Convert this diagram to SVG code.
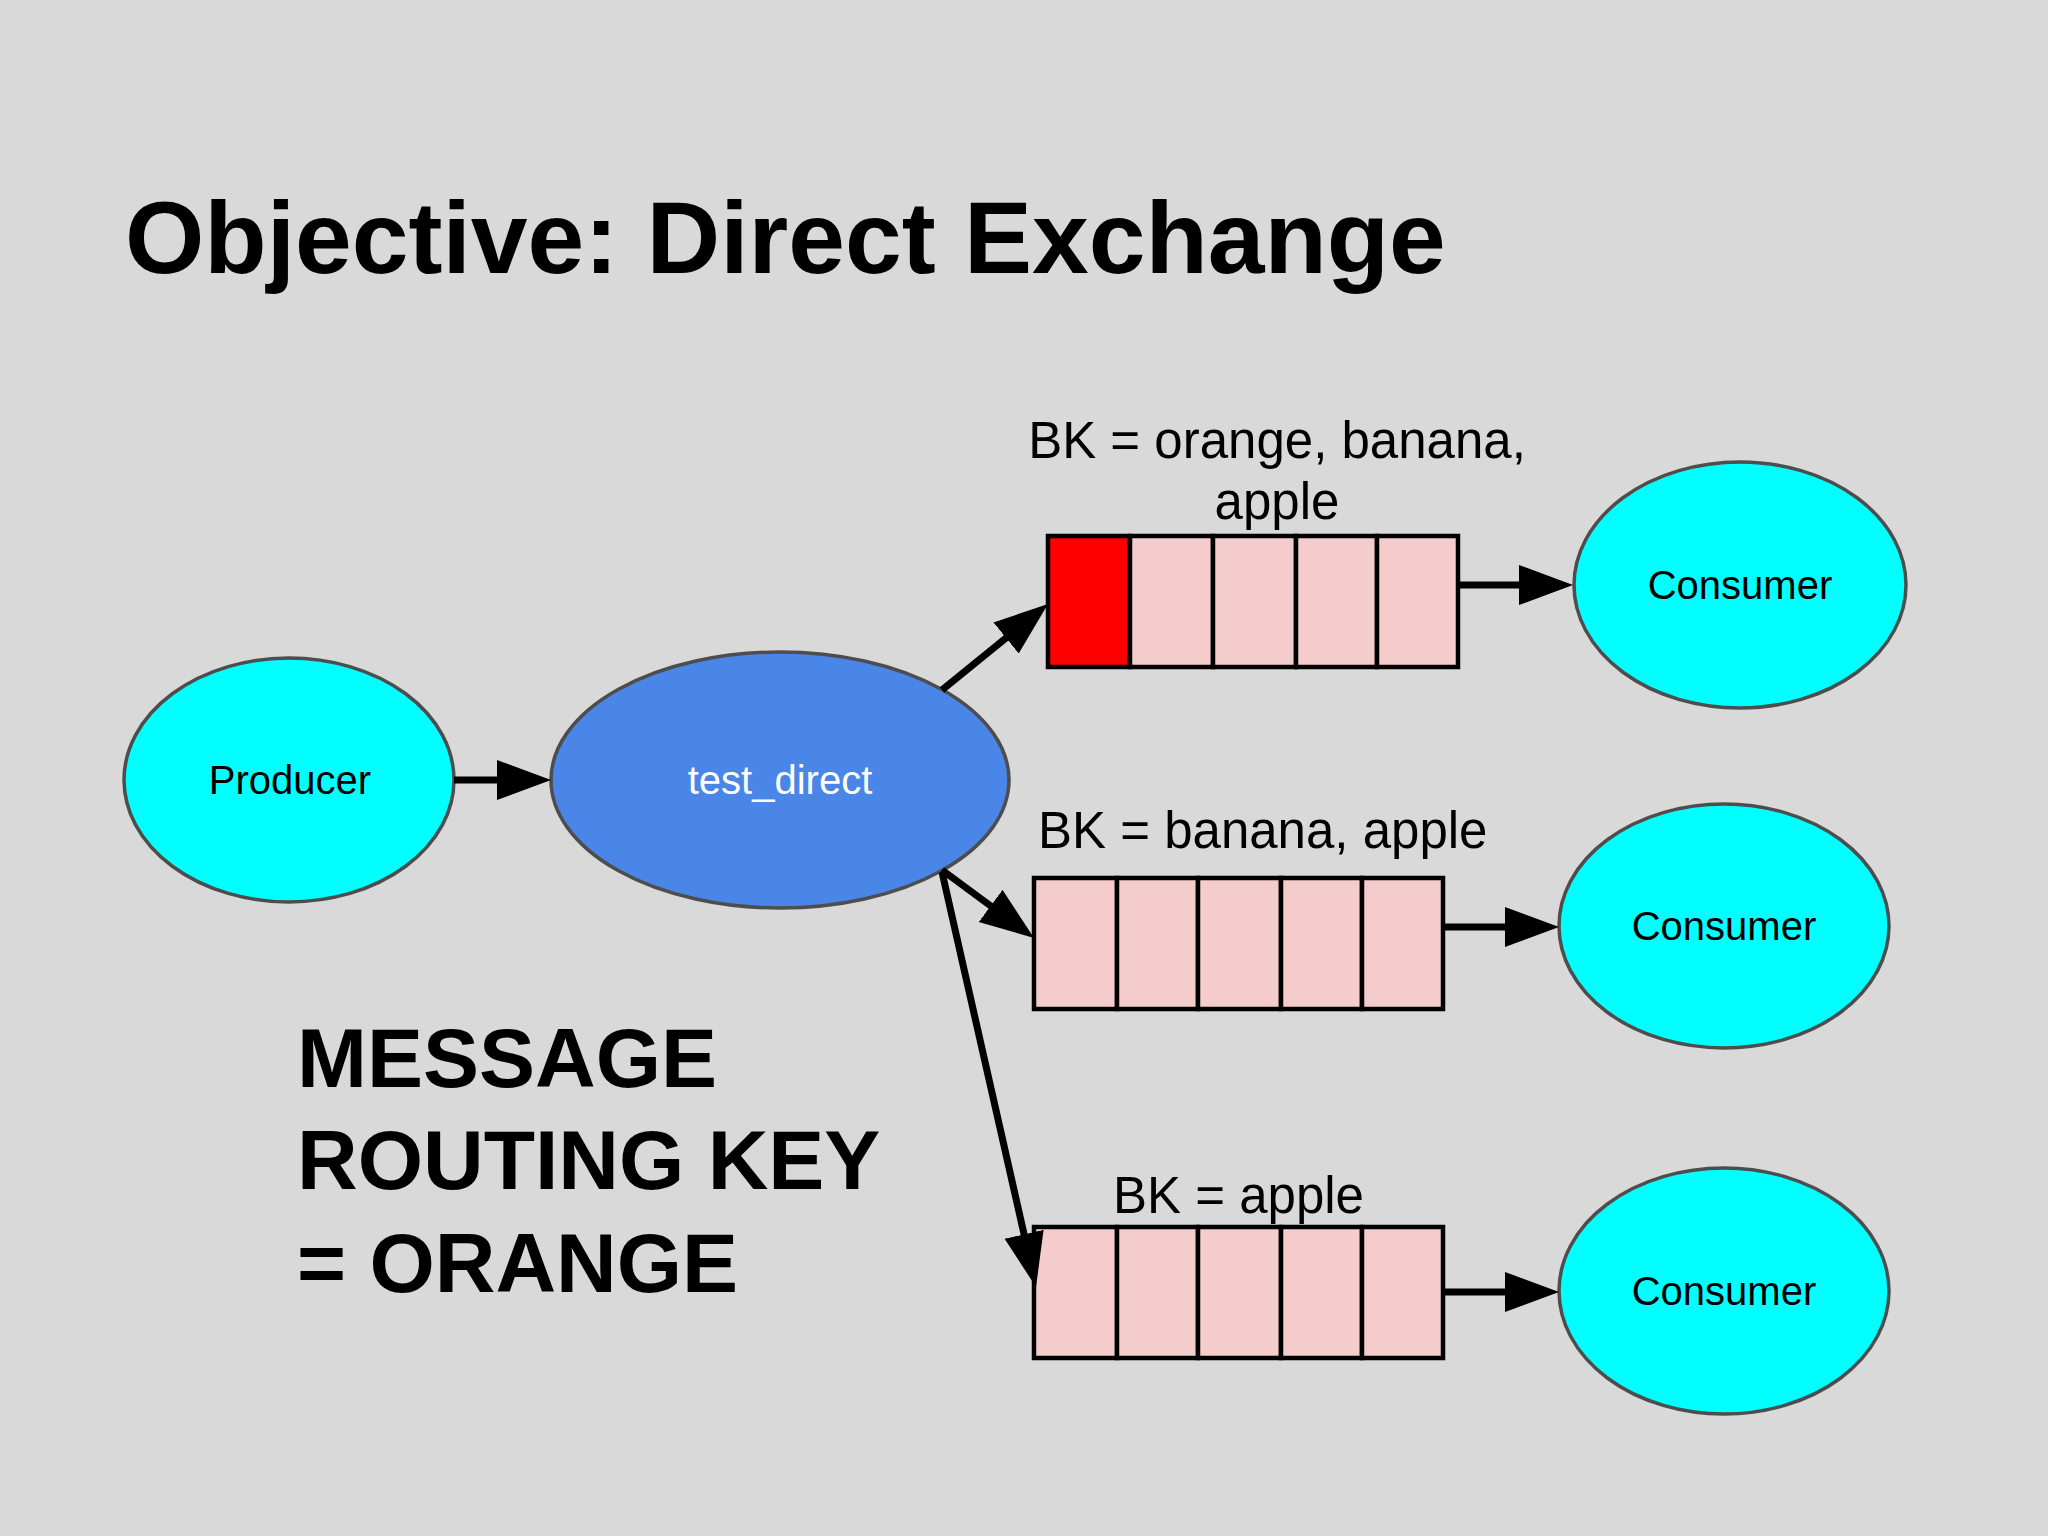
<svg xmlns="http://www.w3.org/2000/svg" width="2048" height="1536" viewBox="0 0 2048 1536">
<style>
.bg{fill:#d9d9d9}
.title{font-family:"Liberation Sans",Arial,sans-serif;font-weight:bold;font-size:102px;fill:#000}
.big{font-family:"Liberation Sans",Arial,sans-serif;font-weight:bold;font-size:84px;fill:#000}
.bk{font-family:"Liberation Sans",Arial,sans-serif;font-size:51px;fill:#000}
.lbl{font-family:"Liberation Sans",Arial,sans-serif;font-size:40px;fill:#000;text-anchor:middle}
.node{fill:#00ffff;stroke:#4d4d4d;stroke-width:3.5}
.ex{fill:#4a86e8;stroke:#4d4d4d;stroke-width:3.5}
.cell{fill:#f4cccc;stroke:#000;stroke-width:4.5}
.red{fill:#ff0000;stroke:#000;stroke-width:4.5}
.conn{stroke:#000;stroke-width:7;fill:none;marker-end:url(#ah)}
</style>
<defs>
<marker id="ah" markerUnits="userSpaceOnUse" markerWidth="56" markerHeight="42" refX="20" refY="20" orient="auto" viewBox="0 0 56 42">
<path d="M0,0 L54,20 L0,40 z" fill="#000"/>
</marker>
</defs>
<rect class="bg" x="0" y="0" width="2048" height="1536"/>
<text class="title" x="125" y="273">Objective: Direct Exchange</text>

<g id="producer">
<ellipse class="node" cx="289" cy="780" rx="165" ry="122"/>
<text class="lbl" x="290" y="794">Producer</text>
</g>
<g id="test_direct">
<ellipse class="ex" cx="780" cy="780" rx="229" ry="128"/>
<text class="lbl" x="780" y="794" style="fill:#fff">test_direct</text>
</g>

<g id="queue1">
<rect class="red" x="1048" y="536" width="82" height="131"/>
<rect class="cell" x="1130" y="536" width="83" height="131"/>
<rect class="cell" x="1213" y="536" width="83" height="131"/>
<rect class="cell" x="1296" y="536" width="81" height="131"/>
<rect class="cell" x="1377" y="536" width="81" height="131"/>
<text class="bk" x="1277" y="458" text-anchor="middle">BK = orange, banana,</text>
<text class="bk" x="1277" y="519" text-anchor="middle">apple</text>
</g>
<g id="queue2">
<rect class="cell" x="1034" y="878" width="83" height="131"/>
<rect class="cell" x="1117" y="878" width="81" height="131"/>
<rect class="cell" x="1198" y="878" width="83" height="131"/>
<rect class="cell" x="1281" y="878" width="81" height="131"/>
<rect class="cell" x="1362" y="878" width="81" height="131"/>
<text class="bk" x="1038" y="848">BK = banana, apple</text>
</g>
<g id="queue3">
<rect class="cell" x="1034" y="1227" width="83" height="131"/>
<rect class="cell" x="1117" y="1227" width="81" height="131"/>
<rect class="cell" x="1198" y="1227" width="83" height="131"/>
<rect class="cell" x="1281" y="1227" width="81" height="131"/>
<rect class="cell" x="1362" y="1227" width="81" height="131"/>
<text class="bk" x="1113" y="1213">BK = apple</text>
</g>

<g id="consumer1">
<ellipse class="node" cx="1740" cy="585" rx="166" ry="123"/>
<text class="lbl" x="1740" y="599">Consumer</text>
</g>
<g id="consumer2">
<ellipse class="node" cx="1724" cy="926" rx="165" ry="122"/>
<text class="lbl" x="1724" y="940">Consumer</text>
</g>
<g id="consumer3">
<ellipse class="node" cx="1724" cy="1291" rx="165" ry="123"/>
<text class="lbl" x="1724" y="1305">Consumer</text>
</g>

<g id="connectors">
<line class="conn" x1="454" y1="780" x2="517" y2="780"/>
<line class="conn" x1="942" y1="690" x2="1021.6" y2="625.4"/>
<line class="conn" x1="942" y1="870" x2="1006.7" y2="917.8"/>
<line class="conn" x1="942" y1="872" x2="1028.5" y2="1253.8"/>
<line class="conn" x1="1458" y1="585" x2="1539" y2="585"/>
<line class="conn" x1="1443" y1="927" x2="1525" y2="927"/>
<line class="conn" x1="1443" y1="1292" x2="1525" y2="1292"/>
</g>

<g id="routing_key">
<text class="big" x="297" y="1087">MESSAGE</text>
<text class="big" x="297" y="1189">ROUTING KEY</text>
<text class="big" x="297" y="1292">= ORANGE</text>
</g>
</svg>
